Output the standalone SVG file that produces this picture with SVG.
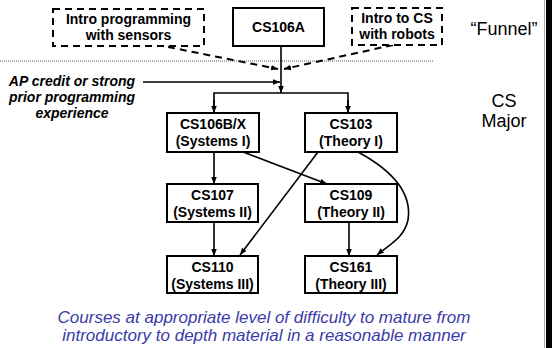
<svg xmlns="http://www.w3.org/2000/svg" width="552" height="348" viewBox="0 0 552 348">
<defs>
<style>
.box{fill:#fff;stroke:#000;stroke-width:2}
.dbox{fill:#fff;stroke:#000;stroke-width:2;stroke-dasharray:7,5}
.t{font-family:"Liberation Sans",Arial,sans-serif;font-weight:bold;font-size:14px;text-anchor:middle;fill:#000}
.ln{stroke:#000;stroke-width:1.6;fill:none}
.dl{stroke:#000;stroke-width:2;fill:none;stroke-dasharray:7,5}
.side{font-family:"Liberation Sans",Arial,sans-serif;font-size:18px;text-anchor:middle;fill:#000}
.ap{font-family:"Liberation Sans",Arial,sans-serif;font-weight:bold;font-style:italic;font-size:14px;text-anchor:middle;fill:#000}
.blue{font-family:"Liberation Sans",Arial,sans-serif;font-style:italic;font-size:17px;text-anchor:middle;fill:#3a3aa8}
</style>
<marker id="ah" viewBox="0 0 10 10" refX="10" refY="5" markerWidth="7" markerHeight="7" orient="auto" markerUnits="userSpaceOnUse">
<path d="M0,1 L10,5 L0,9 z" fill="#000"/>
</marker>
</defs>
<rect width="552" height="348" fill="#fff"/>
<rect x="546" y="0" width="6" height="348" fill="#000"/>
<line x1="544.5" y1="0" x2="544.5" y2="348" stroke="#aaa" stroke-width="1"/>
<line x1="0" y1="61" x2="433" y2="61" stroke="#555" stroke-width="1" stroke-dasharray="1,1"/>

<g id="connectors">
<line class="dl" x1="168" y1="47" x2="278" y2="69" marker-end="url(#ah)"/>
<line class="dl" x1="393" y1="45" x2="284" y2="69" marker-end="url(#ah)"/>
<line class="ln" x1="143" y1="82" x2="280" y2="82" marker-end="url(#ah)"/>
<line class="ln" x1="281" y1="47" x2="281" y2="93" marker-end="url(#ah)"/>
<polyline class="ln" points="214,113 214,93 348,93 348,113"/>
<line class="ln" x1="214" y1="100" x2="214" y2="113" marker-end="url(#ah)"/>
<line class="ln" x1="348" y1="100" x2="348" y2="113" marker-end="url(#ah)"/>
<line class="ln" x1="214" y1="153" x2="214" y2="184" marker-end="url(#ah)"/>
<line class="ln" x1="243" y1="152" x2="327" y2="184" marker-end="url(#ah)"/>
<line class="ln" x1="318" y1="152" x2="240" y2="255" marker-end="url(#ah)"/>
<path class="ln" d="M358,152 C395,172 412,195 408,220 C404,238 390,244 377,255" marker-end="url(#ah)"/>
<line class="ln" x1="214" y1="223" x2="214" y2="256" marker-end="url(#ah)"/>
<line class="ln" x1="349" y1="223" x2="349" y2="256" marker-end="url(#ah)"/>
</g>

<g id="intro-sensors">
<rect class="dbox" x="53" y="9" width="151" height="37"/>
<text class="t" x="128.5" y="24">Intro programming</text>
<text class="t" x="128.5" y="40">with sensors</text>
</g>
<g id="cs106a">
<rect class="box" x="233" y="8" width="91" height="38"/>
<text class="t" x="278.5" y="32">CS106A</text>
</g>
<g id="intro-robots">
<rect class="dbox" x="352" y="8" width="90" height="37"/>
<text class="t" x="397" y="23">Intro to CS</text>
<text class="t" x="397" y="39">with robots</text>
</g>
<g id="cs106b">
<rect class="box" x="167" y="113" width="92" height="39"/>
<text class="t" x="213" y="129">CS106B/X</text>
<text class="t" x="213" y="146">(Systems I)</text>
</g>
<g id="cs103">
<rect class="box" x="305" y="113" width="92" height="39"/>
<text class="t" x="351" y="129">CS103</text>
<text class="t" x="351" y="146">(Theory I)</text>
</g>
<g id="cs107">
<rect class="box" x="167" y="184" width="91" height="38"/>
<text class="t" x="212.5" y="200">CS107</text>
<text class="t" x="212.5" y="217">(Systems II)</text>
</g>
<g id="cs109">
<rect class="box" x="305" y="184" width="92" height="38"/>
<text class="t" x="351" y="200">CS109</text>
<text class="t" x="351" y="217">(Theory II)</text>
</g>
<g id="cs110">
<rect class="box" x="167" y="256" width="91" height="37"/>
<text class="t" x="212.5" y="272">CS110</text>
<text class="t" x="212.5" y="289">(Systems III)</text>
</g>
<g id="cs161">
<rect class="box" x="305" y="256" width="92" height="37"/>
<text class="t" x="351" y="272">CS161</text>
<text class="t" x="351" y="289">(Theory III)</text>
</g>

<g id="labels">
<text class="ap" x="72" y="86">AP credit or strong</text>
<text class="ap" x="72" y="102">prior programming</text>
<text class="ap" x="72" y="118">experience</text>
<text class="side" x="504" y="35">“Funnel”</text>
<text class="side" x="504" y="107">CS</text>
<text class="side" x="504" y="127">Major</text>
<text class="blue" x="264" y="323">Courses at appropriate level of difficulty to mature from</text>
<text class="blue" x="264" y="341">introductory to depth material in a reasonable manner</text>
</g>
</svg>
